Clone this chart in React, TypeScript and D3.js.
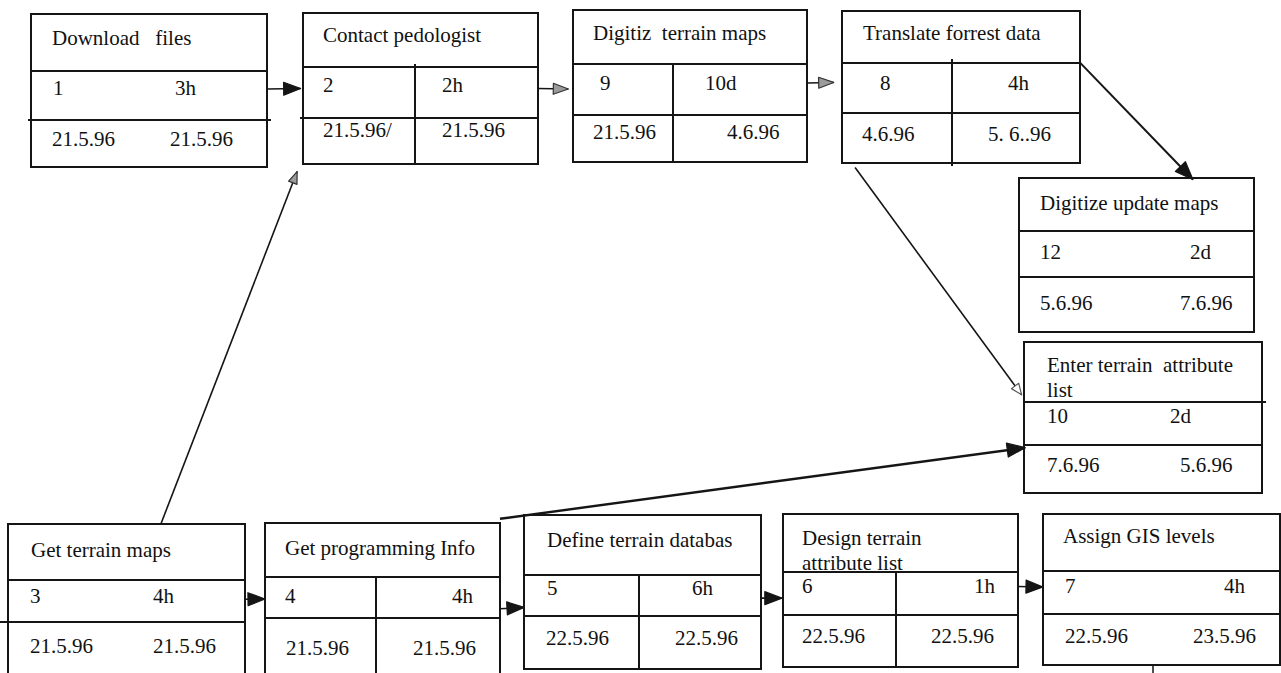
import * as d3 from "d3"

// network plan: one box per task
const taskIds = ["1", "2", "9", "8", "12", "10", "3", "4", "5", "6", "7"]
const taskNames = [
  "Download   files",
  "Contact pedologist",
  "Digitiz  terrain maps",
  "Translate forrest data",
  "Digitize update maps",
  "Enter terrain  attribute\nlist",
  "Get terrain maps",
  "Get programming Info",
  "Define terrain databas",
  "Design terrain\nattribute list",
  "Assign GIS levels",
]
const durations = ["3h", "2h", "10d", "4h", "2d", "2d", "4h", "4h", "6h", "1h", "4h"]
const startDates = ["21.5.96", "21.5.96/", "21.5.96", "4.6.96", "5.6.96", "7.6.96", "21.5.96", "21.5.96", "22.5.96", "22.5.96", "22.5.96"]
const endDates = ["21.5.96", "21.5.96", "4.6.96", "5. 6..96", "7.6.96", "5.6.96", "21.5.96", "21.5.96", "22.5.96", "22.5.96", "23.5.96"]

// dependencies (from -> to) and the arrow head style
const linkFrom = ["1", "2", "9", "8", "8", "3", "3", "4", "4", "5", "6"]
const linkTo = ["2", "9", "8", "12", "10", "2", "4", "5", "10", "6", "7"]
const linkHead = ["solid", "gray", "gray", "solid", "open", "gray", "solid", "solid", "solid", "solid", "solid"]

/**
 * Layout of the boxes (page coordinates)
 * t/m = y of the two inner rules, div = x of the column rule
 */
type Box = {
  x: number; y: number; w: number; h: number; t: number; m: number
  div?: number; divTop?: number; divBot?: number
  ruleL?: number; ruleR?: number; titleR?: number
  nx: number; ny: number; ix: number; dx: number; dEnd?: boolean; ry: number
  c1: number; c2: number; cy: number
}
const layout: Record<string, Box> = {
  "1": {x: 31, y: 14, w: 236, h: 153, t: 71, m: 120, ruleL: 28, ruleR: 271, nx: 52, ny: 45, ix: 53, dx: 175, ry: 95, c1: 52, c2: 170, cy: 146},
  "2": {x: 303, y: 13, w: 235, h: 151, t: 67, m: 118, div: 415, divTop: 64, ruleL: 300, nx: 323, ny: 42, ix: 323, dx: 442, ry: 92, c1: 323, c2: 442, cy: 137},
  "9": {x: 573, y: 10, w: 234, h: 152, t: 64, m: 115, div: 673, nx: 593, ny: 40, ix: 600, dx: 705, ry: 90, c1: 593, c2: 727, cy: 139},
  "8": {x: 842, y: 11, w: 238, h: 152, t: 63, m: 113, div: 952, divTop: 59, divBot: 166, nx: 863, ny: 40, ix: 880, dx: 1008, ry: 90, c1: 862, c2: 988, cy: 141},
  "12": {x: 1019, y: 178, w: 235, h: 154, t: 231, m: 277, nx: 1040, ny: 210, ix: 1040, dx: 1190, ry: 259, c1: 1040, c2: 1180, cy: 310},
  "10": {x: 1024, y: 342, w: 238, h: 151, t: 402, m: 445, titleR: 1266, nx: 1047, ny: 372, ix: 1047, dx: 1170, ry: 423, c1: 1047, c2: 1180, cy: 472},
  "3": {x: 8, y: 524, w: 237, h: 175, t: 580, m: 622, ruleL: 0, nx: 31, ny: 557, ix: 30, dx: 153, ry: 603, c1: 30, c2: 153, cy: 653},
  "4": {x: 265, y: 523, w: 235, h: 175, t: 577, m: 618, div: 376, nx: 285, ny: 555, ix: 285, dx: 473, dEnd: true, ry: 603, c1: 286, c2: 413, cy: 655},
  "5": {x: 524, y: 515, w: 237, h: 154, t: 575, m: 616, div: 639, nx: 547, ny: 547, ix: 547, dx: 692, ry: 595, c1: 546, c2: 675, cy: 645},
  "6": {x: 783, y: 514, w: 235, h: 153, t: 572, m: 615, div: 896, nx: 802, ny: 545, ix: 802, dx: 995, dEnd: true, ry: 593, c1: 802, c2: 931, cy: 643},
  "7": {x: 1043, y: 514, w: 237, h: 151, t: 571, m: 614, nx: 1063, ny: 543, ix: 1065, dx: 1245, dEnd: true, ry: 593, c1: 1065, c2: 1193, cy: 643},
}

// where each link leaves / enters its boxes, as fractions of the box
const linkSource: [number, number][] = [[1, 0.49], [1, 0.5], [1, 0.48], [1, 0.34], [0.055, 1.03], [0.645, 0], [1, 0.43], [1, 0.49], [1, -0.024], [1, 0.54], [1, 0.474]]
const linkTarget: [number, number][] = [[-0.01, 0.5], [-0.02, 0.52], [-0.035, 0.47], [0.74, 0.01], [-0.01, 0.35], [-0.025, 1.05], [0, 0.434], [0, 0.6], [0.005, 0.7], [-0.005, 0.55], [0, 0.483]]

const INK = "#151515"
const FONT = "'Liberation Serif', 'Times New Roman', serif"

function pt(id: string, f: [number, number]): [number, number] {
  const b = layout[id]
  return [b.x + b.w * f[0], b.y + b.h * f[1]]
}

function head(tip: [number, number], from: [number, number], len: number, half: number) {
  const ang = Math.atan2(tip[1] - from[1], tip[0] - from[0])
  const bx = tip[0] - len * Math.cos(ang)
  const by = tip[1] - len * Math.sin(ang)
  const px = -Math.sin(ang) * half
  const py = Math.cos(ang) * half
  return d3.line()([tip, [bx + px, by + py], [bx - px, by - py]]) + "Z"
}

// svg collapses runs of spaces, keep them
const nb = (s: string) => s.replace(/ /g, "\u00a0")

function TaskBox(props: {i: number}) {
  const id = taskIds[props.i]
  const b = layout[id]
  const lines = taskNames[props.i].split("\n")
  const rule = (y: number, x1: number, x2: number) => (
    <line x1={x1} x2={x2} y1={y} y2={y} stroke={INK} strokeWidth={2} />
  )
  return (
    <g fontFamily={FONT} fontSize={21} fill="#111">
      <rect x={b.x} y={b.y} width={b.w} height={b.h} fill="none" stroke={INK} strokeWidth={2} />
      {rule(b.t, b.x, b.titleR ?? b.x + b.w)}
      {rule(b.m, b.ruleL ?? b.x, b.ruleR ?? b.x + b.w)}
      {b.div != null && (
        <line x1={b.div} x2={b.div} y1={b.divTop ?? b.t} y2={b.divBot ?? b.y + b.h} stroke={INK} strokeWidth={2} />
      )}
      {lines.map((l, k) => (
        <text key={k} x={b.nx} y={b.ny + k * 25}>{nb(l)}</text>
      ))}
      <text x={b.ix} y={b.ry}>{id}</text>
      <text x={b.dx} y={b.ry} textAnchor={b.dEnd ? "end" : "start"}>{durations[props.i]}</text>
      <text x={b.c1} y={b.cy}>{nb(startDates[props.i])}</text>
      <text x={b.c2} y={b.cy}>{nb(endDates[props.i])}</text>
    </g>
  )
}

export default function App() {
  const width = 1281
  const height = 673
  const b7 = layout["7"]
  return (
    <svg width={width} height={height} style={{position: "absolute", left: 0, top: 0, background: "#fff"}}>
      <rect width={width} height={height} fill="#fff" />
      {linkFrom.map((s, k) => {
        const a = pt(s, linkSource[k])
        const z = pt(linkTo[k], linkTarget[k])
        const kind = linkHead[k]
        const long = Math.hypot(z[0] - a[0], z[1] - a[1]) > 100
        const len = kind === "open" ? 11 : kind === "gray" ? (long ? 12 : 15) : long ? 18 : 17
        const half = kind === "open" ? 4.5 : kind === "gray" ? (long ? 4.5 : 5.5) : long ? 7 : 6.5
        const fill = kind === "solid" ? INK : kind === "gray" ? "#9b9b9b" : "#fff"
        const stroke = kind === "solid" ? INK : kind === "gray" ? "#333" : "#555"
        const thick = k === 8 ? 2.4 : k === 3 ? 2 : 1.6
        return (
          <g key={k}>
            <path d={d3.line()([a, z]) ?? ""} stroke={INK} strokeWidth={thick} fill="none" />
            <path d={head(z, a, len, half)} fill={fill} stroke={stroke} strokeWidth={1.2} strokeLinejoin="round" />
          </g>
        )
      })}
      {taskIds.map((_, i) => (
        <TaskBox key={i} i={i} />
      ))}
      {/* stray tick under the last box */}
      <line x1={b7.x + 110} x2={b7.x + 110} y1={b7.y + b7.h} y2={height} stroke={INK} strokeWidth={1.5} />
    </svg>
  )
}
